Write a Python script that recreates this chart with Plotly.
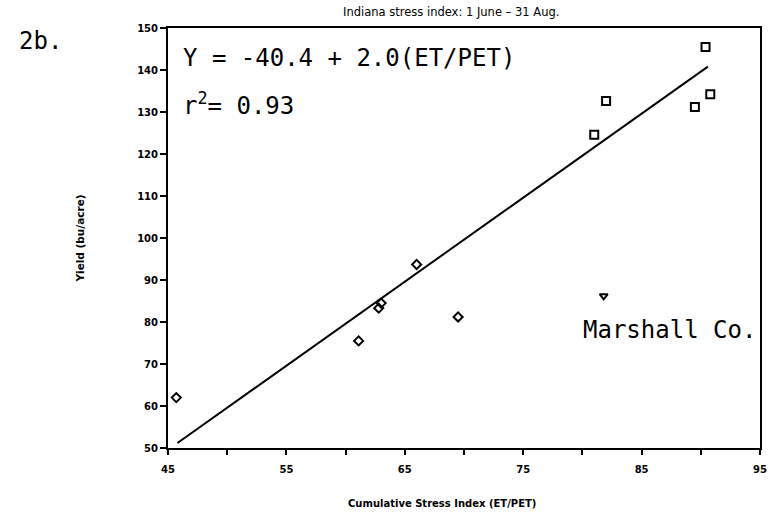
import plotly.graph_objects as go

# Data
diamond_x = [45.7, 61.1, 62.8, 63.0, 66.0, 69.5]
diamond_y = [62.0, 75.5, 83.3, 84.5, 93.7, 81.2]
square_x = [81.0, 82.0, 89.5, 90.8, 90.4]
square_y = [124.6, 132.6, 131.2, 134.2, 145.5]
marshall_x = [81.8]
marshall_y = [86.2]
fit_intercept = -40.4
fit_slope = 2.0
fit_x = [45.8, 90.6]
fit_y = [fit_intercept + fit_slope * v for v in fit_x]

x_tickvals = [45, 50, 55, 60, 65, 70, 75, 80, 85, 90, 95]
x_ticktext = ["45", "", "55", "", "65", "", "75", "", "85", "", "95"]
y_tickvals = [50, 60, 70, 80, 90, 100, 110, 120, 130, 140, 150]

title_text = "Indiana stress index: 1 June – 31 Aug."
x_title = "Cumulative Stress Index (ET/PET)"
y_title = "Yield (bu/acre)"

fig = go.Figure()
fig.add_trace(go.Scatter(x=fit_x, y=fit_y, mode="lines",
                         line=dict(color="black", width=2), showlegend=False))
fig.add_trace(go.Scatter(x=diamond_x, y=diamond_y, mode="markers",
                         marker=dict(symbol="diamond-open", size=7, color="black",
                                     line=dict(width=2, color="black")),
                         showlegend=False))
fig.add_trace(go.Scatter(x=square_x, y=square_y, mode="markers",
                         marker=dict(symbol="square-open", size=8, color="black",
                                     line=dict(width=2, color="black")),
                         showlegend=False))
fig.add_trace(go.Scatter(x=marshall_x, y=marshall_y, mode="markers",
                         marker=dict(symbol="triangle-down-open", size=7, color="black",
                                     line=dict(width=2, color="black")),
                         showlegend=False))

tickfont = dict(family="DejaVu Sans", size=10, color="black", weight="bold")
labfont = dict(family="DejaVu Sans", size=10, color="black", weight="bold")
mono = "DejaVu Sans Mono"

fig.update_layout(
    width=778, height=512,
    margin=dict(l=168, r=11, t=28, b=64),
    paper_bgcolor="white", plot_bgcolor="white",
    title=dict(text=title_text, x=0.58, xanchor="center", y=0.977, yanchor="middle",
               font=dict(family="DejaVu Sans", size=11.5, color="black")),
    xaxis=dict(range=[45, 95], tickvals=x_tickvals, ticktext=x_ticktext,
               ticks="outside", ticklen=5, tickwidth=2, tickcolor="black",
               ticklabelstandoff=6,
               showline=True, linecolor="black", linewidth=2, mirror=True,
               showgrid=False, zeroline=False, tickfont=tickfont),
    yaxis=dict(range=[50, 150], tickvals=y_tickvals,
               ticks="outside", ticklen=6, tickwidth=2, tickcolor="black",
               showline=True, linecolor="black", linewidth=2, mirror=True,
               showgrid=False, zeroline=False, tickfont=tickfont,
               title=dict(text=y_title, font=dict(family="DejaVu Sans", size=10.5,
                                                  color="black", weight="bold"),
                          standoff=50)),
    annotations=[
        dict(text=x_title, xref="paper", yref="paper", x=0.462, y=-0.131,
             xanchor="center", yanchor="middle", showarrow=False, font=labfont),
        dict(text="2b.", xref="paper", yref="paper", x=-0.255, y=0.97,
             xanchor="left", yanchor="middle", showarrow=False,
             font=dict(family=mono, size=24, color="black")),
        dict(text="Y = -40.4 + 2.0(ET/PET)", xref="paper", yref="paper", x=0.022, y=0.928,
             xanchor="left", yanchor="middle", showarrow=False,
             font=dict(family=mono, size=24, color="black")),
        dict(text="r<sup>2</sup>= 0.93", xref="paper", yref="paper", x=0.022, y=0.818,
             xanchor="left", yanchor="middle", showarrow=False,
             font=dict(family=mono, size=24, color="black")),
        dict(text="Marshall Co.", xref="paper", yref="paper", x=0.997, y=0.28,
             xanchor="right", yanchor="middle", showarrow=False,
             font=dict(family=mono, size=24, color="black")),
    ],
)

fig.write_html("out.html")
